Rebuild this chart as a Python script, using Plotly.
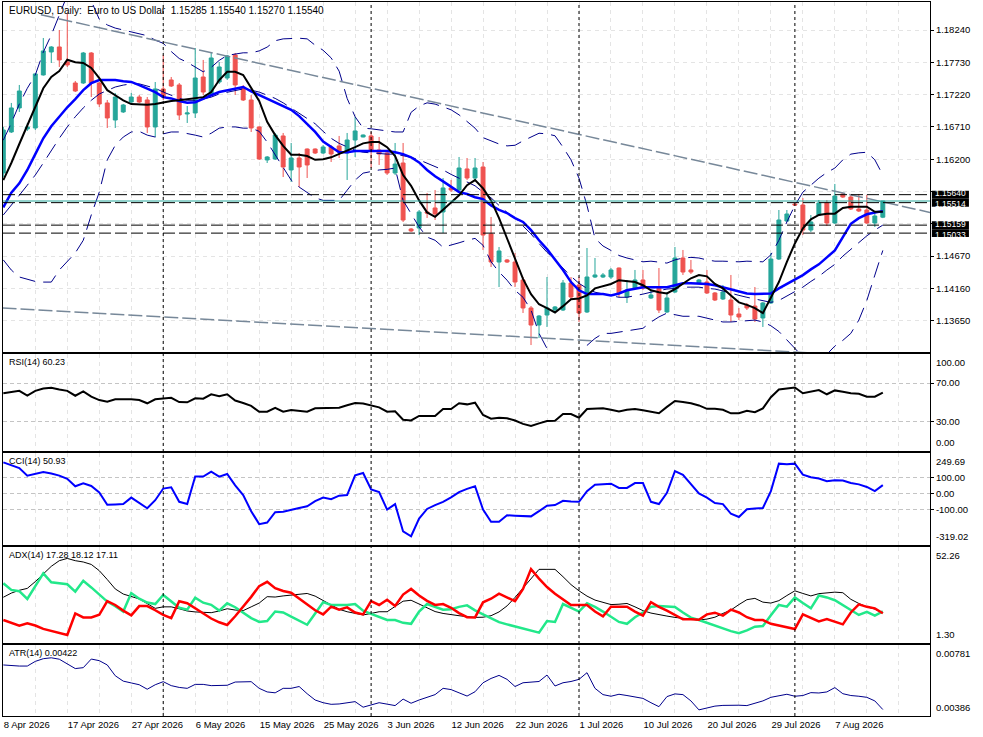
import pandas as pd
import plotly.graph_objects as go

# daily EURUSD bars, the broker also prints a small Sunday candle (6 bars a week)
dates = pd.bdate_range("2026-04-08", "2026-08-14", freq="C", weekmask="Sun Mon Tue Wed Thu Fri")

opens = [1.15982, 1.16630, 1.17009, 1.16677, 1.16693, 1.17530, 1.17893, 1.17972, 1.17735, 1.17403,
         1.17403, 1.17877, 1.17403, 1.17088, 1.16819, 1.16946, 1.17103, 1.17182, 1.17135, 1.16709,
         1.17309, 1.17451, 1.17372, 1.16914, 1.16930, 1.17498, 1.17214, 1.17419, 1.17482, 1.17846,
         1.17340, 1.17135, 1.16709, 1.16188, 1.16203, 1.16567, 1.16030, 1.16219, 1.16361, 1.16361,
         1.16298, 1.16393, 1.16409, 1.16298, 1.16503, 1.16551, 1.16567, 1.16346, 1.16298, 1.15982,
         1.16140, 1.15098, 1.15114, 1.15367, 1.15430, 1.15367, 1.15746, 1.15714, 1.16046, 1.15903,
         1.16077, 1.15019, 1.14577, 1.14609, 1.14577, 1.14293, 1.13851, 1.13582, 1.13740, 1.13819,
         1.13819, 1.14245, 1.14214, 1.13788, 1.14340, 1.14340, 1.14340, 1.14482, 1.14024, 1.14167,
         1.14293, 1.14009, 1.14167, 1.13788, 1.14103, 1.14640, 1.14451, 1.14245, 1.14261, 1.14088,
         1.13993, 1.13977, 1.13756, 1.13898, 1.13882, 1.13693, 1.13930, 1.14624, 1.15224, 1.15493,
         1.15477, 1.15082, 1.15319, 1.15509, 1.15193, 1.15651, 1.15603, 1.15414, 1.15398, 1.15193,
         1.15285]
highs = [1.16709, 1.17088, 1.17372, 1.16772, 1.17560, 1.18114, 1.17985, 1.18240, 1.18509, 1.17435,
         1.17893, 1.17890, 1.17419, 1.17135, 1.17246, 1.17072, 1.17246, 1.17214, 1.17182, 1.17419,
         1.17846, 1.17498, 1.17403, 1.17040, 1.17956, 1.17767, 1.17877, 1.17735, 1.17846, 1.17877,
         1.17372, 1.17214, 1.16720, 1.16250, 1.16614, 1.16614, 1.16456, 1.16298, 1.16370, 1.16370,
         1.16424, 1.16424, 1.16567, 1.16614, 1.16867, 1.16590, 1.16630, 1.16551, 1.16346, 1.16456,
         1.16456, 1.15114, 1.15398, 1.15667, 1.15714, 1.15903, 1.15872, 1.16235, 1.16219, 1.16219,
         1.16156, 1.15288, 1.14814, 1.14624, 1.14719, 1.14340, 1.13882, 1.13740, 1.14340, 1.13882,
         1.14293, 1.14340, 1.14340, 1.14798, 1.14640, 1.14403, 1.14482, 1.14490, 1.14293, 1.14451,
         1.14451, 1.14135, 1.14482, 1.14103, 1.14814, 1.14767, 1.14609, 1.14309, 1.14451, 1.14103,
         1.14214, 1.14372, 1.13851, 1.13930, 1.14182, 1.13945, 1.14719, 1.15398, 1.15398, 1.15509,
         1.15588, 1.15319, 1.15556, 1.15556, 1.15809, 1.15667, 1.15651, 1.15651, 1.15635, 1.15351,
         1.15540]
lows = [1.15919, 1.16614, 1.16946, 1.16646, 1.16661, 1.17520, 1.17719, 1.17656, 1.17656, 1.17261,
        1.17388, 1.17182, 1.17025, 1.16693, 1.16693, 1.16930, 1.17088, 1.17088, 1.16614, 1.16551,
        1.17135, 1.17340, 1.16819, 1.16772, 1.16851, 1.17214, 1.17198, 1.17388, 1.17451, 1.17214,
        1.17119, 1.16630, 1.16188, 1.16140, 1.16188, 1.15919, 1.15840, 1.15761, 1.15903, 1.16282,
        1.16282, 1.16156, 1.16219, 1.15872, 1.16235, 1.16545, 1.16061, 1.16109, 1.15951, 1.15951,
        1.15209, 1.15051, 1.15003, 1.15272, 1.15240, 1.15035, 1.15682, 1.15682, 1.15872, 1.15872,
        1.14767, 1.14498, 1.14182, 1.14561, 1.14182, 1.13772, 1.13266, 1.13377, 1.13551, 1.13803,
        1.13803, 1.13977, 1.13630, 1.13772, 1.14324, 1.14324, 1.14309, 1.14024, 1.13930, 1.14151,
        1.14135, 1.13993, 1.13772, 1.13772, 1.14088, 1.14372, 1.14388, 1.14230, 1.14072, 1.13961,
        1.13977, 1.13630, 1.13661, 1.13819, 1.13630, 1.13551, 1.13914, 1.14609, 1.15209, 1.15461,
        1.15003, 1.15051, 1.15303, 1.15146, 1.15177, 1.15588, 1.15398, 1.15367, 1.15177, 1.15130,
        1.15270]
closes = [1.16661, 1.17009, 1.17277, 1.16709, 1.17546, 1.17909, 1.17972, 1.17767, 1.17688, 1.17277,
          1.17877, 1.17403, 1.17072, 1.16851, 1.17182, 1.17056, 1.17182, 1.17103, 1.16709, 1.17309,
          1.17182, 1.17356, 1.16898, 1.16930, 1.17482, 1.17261, 1.17798, 1.17656, 1.17830, 1.17372,
          1.17135, 1.16693, 1.16203, 1.16235, 1.16582, 1.16077, 1.16219, 1.16077, 1.16109, 1.16298,
          1.16393, 1.16282, 1.16314, 1.16503, 1.16646, 1.16582, 1.16346, 1.16282, 1.15982, 1.16124,
          1.15240, 1.15067, 1.15367, 1.15351, 1.15335, 1.15746, 1.15714, 1.16061, 1.15903, 1.16061,
          1.15003, 1.14577, 1.14751, 1.14577, 1.14261, 1.13851, 1.13582, 1.13724, 1.13851, 1.13867,
          1.14245, 1.14024, 1.13772, 1.14340, 1.14372, 1.14372, 1.14451, 1.14088, 1.14135, 1.14293,
          1.14167, 1.14056, 1.13819, 1.14009, 1.14640, 1.14419, 1.14419, 1.14293, 1.14088, 1.13977,
          1.14103, 1.13740, 1.13709, 1.13851, 1.13677, 1.13930, 1.14624, 1.15240, 1.15335, 1.15477,
          1.15082, 1.15209, 1.15509, 1.15193, 1.15619, 1.15603, 1.15414, 1.15382, 1.15193, 1.15303,
          1.15540]

# moving averages and bands on the price window
ma_fast = [1.1587, 1.1614, 1.1644, 1.1674, 1.1702, 1.1732, 1.1750, 1.1759, 1.1777, 1.1773,
           1.1772, 1.1764, 1.1748, 1.1729, 1.1721, 1.1713, 1.1707, 1.1706, 1.1706, 1.1707,
           1.1710, 1.1712, 1.1713, 1.1715, 1.1716, 1.1718, 1.1726, 1.1745, 1.1758, 1.1758,
           1.1753, 1.1732, 1.1712, 1.1679, 1.1658, 1.1641, 1.1627, 1.1627, 1.1625, 1.1619,
           1.1620, 1.1623, 1.1628, 1.1633, 1.1639, 1.1645, 1.1647, 1.1647, 1.1639, 1.1625,
           1.1595, 1.1578, 1.1555, 1.1536, 1.1529, 1.1540, 1.1551, 1.1563, 1.1579, 1.1587,
           1.1574, 1.1555, 1.1527, 1.1495, 1.1461, 1.1431, 1.1407, 1.1391, 1.1385, 1.1378,
           1.1388, 1.1399, 1.1400, 1.1405, 1.1416, 1.1419, 1.1423, 1.1429, 1.1427, 1.1426,
           1.1421, 1.1413, 1.1410, 1.1408, 1.1415, 1.1424, 1.1432, 1.1437, 1.1435, 1.1423,
           1.1416, 1.1405, 1.1394, 1.1390, 1.1385, 1.1377, 1.1402, 1.1426, 1.1458, 1.1487,
           1.1511, 1.1525, 1.1532, 1.1534, 1.1534, 1.1543, 1.1545, 1.1545, 1.1545, 1.1537,
           1.1537]
ma_mid = [1.1544, 1.1567, 1.1582, 1.1603, 1.1628, 1.1653, 1.1672, 1.1687, 1.1702, 1.1715,
          1.1729, 1.1740, 1.1745, 1.1745, 1.1745, 1.1743, 1.1742, 1.1737, 1.1731, 1.1726,
          1.1718, 1.1716, 1.1712, 1.1709, 1.1710, 1.1716, 1.1721, 1.1726, 1.1729, 1.1732,
          1.1734, 1.1727, 1.1721, 1.1716, 1.1710, 1.1704, 1.1698, 1.1688, 1.1676, 1.1663,
          1.1648, 1.1639, 1.1631, 1.1631, 1.1633, 1.1633, 1.1633, 1.1633, 1.1633, 1.1631,
          1.1628, 1.1623, 1.1615, 1.1603, 1.1593, 1.1585, 1.1576, 1.1568, 1.1565, 1.1560,
          1.1557, 1.1547, 1.1540, 1.1535, 1.1527, 1.1521, 1.1508, 1.1492, 1.1478, 1.1461,
          1.1445, 1.1426, 1.1413, 1.1407, 1.1407, 1.1407, 1.1405, 1.1408, 1.1413, 1.1416,
          1.1418, 1.1418, 1.1418, 1.1418, 1.1421, 1.1424, 1.1424, 1.1424, 1.1423, 1.1421,
          1.1418, 1.1415, 1.1411, 1.1408, 1.1407, 1.1407, 1.1408, 1.1416, 1.1423, 1.1429,
          1.1437, 1.1446, 1.1454, 1.1465, 1.1476, 1.1497, 1.1518, 1.1527, 1.1533, 1.1536,
          1.1538]
ma_slow = [1.1532, 1.1547, 1.1563, 1.1579, 1.1595, 1.1614, 1.1634, 1.1653, 1.1671, 1.1687,
           1.1701, 1.1713, 1.1723, 1.1729, 1.1734, 1.1737, 1.1739, 1.1739, 1.1736, 1.1732,
           1.1726, 1.1721, 1.1716, 1.1713, 1.1713, 1.1715, 1.1718, 1.1723, 1.1726, 1.1729,
           1.1731, 1.1729, 1.1726, 1.1721, 1.1716, 1.1709, 1.1701, 1.1693, 1.1685, 1.1676,
           1.1664, 1.1653, 1.1645, 1.1639, 1.1634, 1.1631, 1.1630, 1.1628, 1.1628, 1.1628,
           1.1626, 1.1623, 1.1619, 1.1614, 1.1608, 1.1603, 1.1596, 1.1590, 1.1584, 1.1578,
           1.1568, 1.1559, 1.1547, 1.1536, 1.1527, 1.1514, 1.1502, 1.1487, 1.1473, 1.1461,
           1.1448, 1.1435, 1.1424, 1.1416, 1.1410, 1.1407, 1.1404, 1.1402, 1.1402, 1.1404,
           1.1407, 1.1410, 1.1413, 1.1415, 1.1416, 1.1418, 1.1418, 1.1418, 1.1416, 1.1415,
           1.1412, 1.1408, 1.1405, 1.1402, 1.1399, 1.1397, 1.1394, 1.1397, 1.1404, 1.1410,
           1.1418, 1.1427, 1.1435, 1.1445, 1.1454, 1.1467, 1.1478, 1.1489, 1.1499, 1.1508,
           1.1516]
bb_upper = [1.1650, 1.1677, 1.1707, 1.1732, 1.1753, 1.1789, 1.1816, 1.1848, 1.1879, 1.1887,
            1.1879, 1.1870, 1.1841, 1.1832, 1.1827, 1.1824, 1.1821, 1.1819, 1.1815, 1.1808,
            1.1803, 1.1790, 1.1779, 1.1773, 1.1766, 1.1758, 1.1765, 1.1776, 1.1784, 1.1786,
            1.1788, 1.1788, 1.1791, 1.1797, 1.1807, 1.1810, 1.1811, 1.1811, 1.1810, 1.1800,
            1.1792, 1.1780, 1.1759, 1.1716, 1.1687, 1.1669, 1.1668, 1.1666, 1.1664, 1.1663,
            1.1663, 1.1694, 1.1704, 1.1709, 1.1707, 1.1702, 1.1698, 1.1690, 1.1680, 1.1669,
            1.1654, 1.1649, 1.1644, 1.1641, 1.1642, 1.1649, 1.1655, 1.1661, 1.1660, 1.1657,
            1.1639, 1.1619, 1.1590, 1.1547, 1.1495, 1.1483, 1.1476, 1.1468, 1.1464, 1.1461,
            1.1458, 1.1459, 1.1458, 1.1456, 1.1461, 1.1464, 1.1465, 1.1464, 1.1461, 1.1459,
            1.1459, 1.1458, 1.1458, 1.1459, 1.1458, 1.1458, 1.1469, 1.1492, 1.1521, 1.1547,
            1.1568, 1.1579, 1.1590, 1.1599, 1.1606, 1.1619, 1.1628, 1.1630, 1.1631, 1.1619,
            1.1595]
bb_lower = [1.1461, 1.1445, 1.1434, 1.1431, 1.1427, 1.1426, 1.1426, 1.1445, 1.1458, 1.1472,
            1.1492, 1.1532, 1.1568, 1.1619, 1.1642, 1.1655, 1.1663, 1.1664, 1.1658, 1.1655,
            1.1660, 1.1663, 1.1663, 1.1661, 1.1658, 1.1655, 1.1661, 1.1669, 1.1671, 1.1671,
            1.1669, 1.1669, 1.1664, 1.1647, 1.1627, 1.1608, 1.1587, 1.1576, 1.1568, 1.1559,
            1.1555, 1.1555, 1.1555, 1.1571, 1.1587, 1.1598, 1.1601, 1.1603, 1.1604, 1.1606,
            1.1555, 1.1535, 1.1513, 1.1497, 1.1492, 1.1481, 1.1484, 1.1488, 1.1492, 1.1495,
            1.1484, 1.1458, 1.1442, 1.1429, 1.1413, 1.1402, 1.1382, 1.1345, 1.1321, 1.1303,
            1.1295, 1.1299, 1.1310, 1.1326, 1.1337, 1.1345, 1.1345, 1.1347, 1.1348, 1.1350,
            1.1353, 1.1363, 1.1371, 1.1377, 1.1375, 1.1372, 1.1372, 1.1372, 1.1369, 1.1366,
            1.1363, 1.1363, 1.1364, 1.1364, 1.1366, 1.1363, 1.1357, 1.1348, 1.1334, 1.1320,
            1.1308, 1.1300, 1.1303, 1.1312, 1.1325, 1.1334, 1.1345, 1.1366, 1.1397, 1.1437,
            1.1476]

# oscillators
rsi = [59.5, 60.7, 62.0, 57.2, 62.0, 64.5, 65.3, 63.5, 62.0, 57.0,
       61.5, 56.0, 52.5, 50.8, 53.3, 53.3, 53.3, 52.5, 49.2, 53.3,
       54.3, 54.9, 50.5, 50.2, 54.3, 53.9, 58.5, 56.5, 58.5, 52.0,
       49.5, 46.5, 40.5, 40.5, 44.6, 40.5, 42.3, 41.5, 40.5, 44.0,
       44.0, 44.0, 44.6, 47.2, 49.5, 49.0, 47.0, 45.0, 40.5, 41.0,
       32.3, 31.5, 36.1, 36.1, 36.1, 43.3, 43.3, 49.2, 48.1, 49.8,
       37.1, 33.3, 34.3, 33.7, 31.5, 28.0, 25.8, 28.5, 31.0, 31.2,
       38.1, 38.1, 34.3, 43.3, 44.0, 44.0, 42.5, 40.8, 42.5, 43.3,
       42.0, 40.5, 39.0, 45.5, 51.5, 50.5, 49.2, 47.0, 43.5, 43.5,
       42.5, 38.9, 38.9, 41.5, 40.0, 44.0, 55.5, 63.5, 64.6, 65.5,
       59.5, 61.5, 62.9, 58.5, 62.5, 61.0, 59.5, 59.0, 56.0, 56.0,
       60.23]
cci = [192, 175, 157, 110, 122, 132, 123, 110, 90, 44,
       62, 46, 6, -70, -68, -66, -26, -60, -92, -42,
       30, 38, -52, -66, 104, 104, 134, 104, 120, 50,
       -10, -110, -190, -180, -116, -113, -100, -90, -80, -48,
       -26, -36, -14, -10, 112, 126, 24, 8, -100, -66,
       -235, -265, -156, -96, -72, -52, -25, 8, 28, 44,
       -100, -175, -175, -135, -138, -142, -142, -110, -76, -72,
       -46, -50, -52, 14, 54, 57, 60, 34, 34, 64,
       64, -52, -66, 4, 138, 115, 60, 0, -26, -60,
       -66, -126, -146, -98, -93, -90, 14, 184, 180, 184,
       116, 100, 92, 76, 82, 80, 64, 56, 40, 14,
       50.93]
adx = [25.6, 27.8, 29.3, 30.3, 33.9, 38.2, 42.0, 45.0, 46.2, 45.0,
       44.3, 43.0, 39.7, 35.0, 30.0, 27.3, 25.9, 24.7, 22.2, 19.7,
       20.5, 20.5, 19.5, 18.3, 17.8, 17.4, 17.4, 18.3, 19.5, 18.8,
       18.5, 20.5, 22.5, 25.9, 25.7, 26.3, 26.8, 27.4, 27.6, 26.2,
       24.0, 21.5, 19.2, 17.9, 17.0, 16.2, 17.0, 17.9, 17.9, 20.5,
       23.5, 24.0, 22.0, 20.0, 18.0, 17.0, 16.2, 15.8, 15.3, 14.9,
       15.0, 15.8, 17.8, 21.0, 25.5, 30.5, 36.0, 40.4, 40.4, 40.4,
       36.5, 32.3, 29.0, 26.2, 24.1, 22.8, 21.7, 21.9, 22.3, 20.5,
       18.5, 17.2, 16.2, 15.6, 14.9, 14.3, 13.8, 13.5, 14.0, 15.0,
       17.0, 18.8, 21.7, 24.3, 25.0, 23.0, 22.5, 23.8, 26.5, 29.0,
       27.6, 26.3, 27.5, 28.0, 28.3, 28.0, 24.5, 22.3, 20.5, 19.3,
       17.28]
plus_di = [33.0, 29.5, 28.8, 24.7, 31.5, 38.3, 33.5, 33.2, 32.5, 28.6,
           34.3, 30.8, 27.0, 23.3, 20.8, 18.0, 27.8, 24.8, 22.8, 22.0,
           26.8, 23.5, 20.0, 19.0, 25.3, 22.7, 21.6, 18.5, 22.4, 20.3,
           17.2, 14.5, 12.5, 13.0, 18.0, 17.5, 15.3, 13.0, 11.0, 17.0,
           23.0, 21.5, 21.5, 21.5, 22.0, 18.5, 16.8, 15.0, 13.5, 13.5,
           12.0, 11.5, 18.0, 22.0, 20.4, 19.0, 19.2, 20.5, 21.3, 18.6,
           16.5, 14.3, 12.4, 11.2, 10.0, 8.8, 7.8, 6.8, 13.0, 12.5,
           22.0, 20.0, 18.0, 22.4, 20.5, 18.0, 15.2, 12.5, 11.5, 15.0,
           17.5, 20.5, 20.9, 20.7, 20.4, 17.5, 14.8, 13.5, 12.0, 10.5,
           9.0, 7.6, 6.5, 8.0, 10.0, 10.3, 16.0, 21.5, 20.6, 25.5,
           22.5, 19.7, 26.5, 25.5, 24.0, 21.5, 19.0, 16.2, 17.8, 15.8,
           18.12]
minus_di = [13.5, 11.8, 10.5, 11.8, 10.6, 8.8, 7.6, 6.5, 5.6, 17.0,
            14.9, 14.9, 16.3, 23.5, 21.5, 18.5, 16.0, 20.9, 20.9, 18.7,
            16.2, 14.5, 23.5, 22.4, 19.8, 17.2, 14.3, 12.3, 10.9, 15.5,
            20.5, 25.8, 31.5, 33.8, 30.4, 28.9, 28.0, 25.0, 22.0, 18.7,
            16.5, 20.6, 19.0, 20.2, 17.5, 16.5, 23.5, 21.5, 24.3, 21.0,
            27.0, 30.0, 26.5, 23.7, 21.5, 22.0, 20.0, 17.2, 15.0, 14.9,
            22.9, 24.8, 27.5, 25.5, 23.5, 30.0, 40.5, 35.5, 31.0, 27.5,
            24.5, 21.5, 21.5, 21.5, 18.0, 15.5, 20.6, 20.6, 20.6, 18.0,
            15.8, 23.0, 20.5, 18.5, 16.0, 13.9, 13.9, 13.6, 16.5, 17.4,
            15.8, 19.0, 17.5, 15.0, 13.5, 13.5, 11.5, 10.5, 9.6, 8.7,
            16.5, 14.5, 12.8, 14.0, 12.8, 11.2, 17.5, 21.8, 20.5, 19.7,
            17.11]
atr = [0.00670, 0.00666, 0.00664, 0.00664, 0.00690, 0.00705, 0.00710, 0.00702, 0.00675, 0.00650,
       0.00655, 0.00703, 0.00694, 0.00670, 0.00610, 0.00580, 0.00570, 0.00560, 0.00535, 0.00560,
       0.00577, 0.00555, 0.00545, 0.00540, 0.00562, 0.00562, 0.00555, 0.00555, 0.00557, 0.00575,
       0.00577, 0.00577, 0.00540, 0.00520, 0.00515, 0.00540, 0.00540, 0.00550, 0.00510, 0.00475,
       0.00460, 0.00451, 0.00453, 0.00460, 0.00466, 0.00435, 0.00448, 0.00460, 0.00452, 0.00444,
       0.00480, 0.00457, 0.00475, 0.00490, 0.00505, 0.00540, 0.00533, 0.00515, 0.00497, 0.00521,
       0.00571, 0.00595, 0.00612, 0.00590, 0.00550, 0.00571, 0.00575, 0.00578, 0.00614, 0.00553,
       0.00571, 0.00578, 0.00590, 0.00627, 0.00540, 0.00505, 0.00496, 0.00507, 0.00500, 0.00494,
       0.00484, 0.00460, 0.00438, 0.00494, 0.00509, 0.00505, 0.00470, 0.00420, 0.00432, 0.00441,
       0.00445, 0.00447, 0.00446, 0.00444, 0.00456, 0.00470, 0.00490, 0.00500, 0.00507, 0.00496,
       0.00500, 0.00516, 0.00514, 0.00520, 0.00544, 0.00510, 0.00500, 0.00496, 0.00490, 0.00470,
       0.00422]

# drawn objects
levels = [1.15640, 1.15514, 1.15159, 1.15033]
bid = 1.15540
trend_hi_x = [4.7, 115.9]
trend_hi_y = [1.1848, 1.1536]
trend_lo_x = [-0.1, 96.5]
trend_lo_y = [1.1385, 1.1317]
month_starts = ["2026-05-01", "2026-06-01", "2026-07-01", "2026-08-02"]

price_ticks = [1.13650, 1.14160, 1.14670, 1.15180, 1.15690, 1.16200, 1.16710, 1.17220, 1.17730, 1.18240]
hidden_ticks = [1.15180, 1.15690]  # covered by the level boxes

TEAL = "#26a69a"
RED = "#ef5350"
NAVY = "#00008b"
FONT = "Liberation Sans"
LBL = dict(family=FONT, size=9.5, color="black")
TTL = dict(family=FONT, size=9, color="black")
HDR = dict(family=FONT, size=10, color="black")

x = list(range(len(dates)))
nbars = len(dates)

fig = go.Figure()

fig.add_trace(go.Candlestick(
    x=x, open=opens, high=highs, low=lows, close=closes,
    increasing=dict(line=dict(color=TEAL, width=1), fillcolor=TEAL),
    decreasing=dict(line=dict(color=RED, width=1), fillcolor=RED),
    whiskerwidth=0, showlegend=False, hoverinfo="skip", xaxis="x", yaxis="y"))

for band in (bb_upper, bb_lower, ma_slow):
    fig.add_trace(go.Scatter(x=x, y=band, mode="lines", showlegend=False, hoverinfo="skip",
                             line=dict(color=NAVY, width=1, dash="16px,8px"), xaxis="x", yaxis="y"))

fig.add_trace(go.Scatter(x=trend_hi_x, y=trend_hi_y, mode="lines", showlegend=False, hoverinfo="skip",
                         line=dict(color="#778899", width=1.5, dash="14px,4px"), xaxis="x", yaxis="y"))
fig.add_trace(go.Scatter(x=trend_lo_x + [nbars + 6], y=trend_lo_y + [trend_lo_y[1] - 0.0014], mode="lines",
                         showlegend=False, hoverinfo="skip",
                         line=dict(color="#778899", width=1.5, dash="14px,4px"), xaxis="x", yaxis="y"))

fig.add_trace(go.Scatter(x=x, y=ma_mid, mode="lines", showlegend=False, hoverinfo="skip",
                         line=dict(color="#0000ff", width=2.5), xaxis="x", yaxis="y"))
fig.add_trace(go.Scatter(x=x, y=ma_fast, mode="lines", showlegend=False, hoverinfo="skip",
                         line=dict(color="black", width=2), xaxis="x", yaxis="y"))

# sub windows
fig.add_trace(go.Scatter(x=x, y=rsi, mode="lines", showlegend=False, hoverinfo="skip",
                         line=dict(color="black", width=2), xaxis="x2", yaxis="y2"))
fig.add_trace(go.Scatter(x=x, y=cci, mode="lines", showlegend=False, hoverinfo="skip",
                         line=dict(color="#0000ff", width=2), xaxis="x3", yaxis="y3"))
fig.add_trace(go.Scatter(x=x, y=adx, mode="lines", showlegend=False, hoverinfo="skip",
                         line=dict(color="black", width=1), xaxis="x4", yaxis="y4"))
fig.add_trace(go.Scatter(x=x, y=plus_di, mode="lines", showlegend=False, hoverinfo="skip",
                         line=dict(color="#22e88a", width=2.5), xaxis="x4", yaxis="y4"))
fig.add_trace(go.Scatter(x=x, y=minus_di, mode="lines", showlegend=False, hoverinfo="skip",
                         line=dict(color="#ff0000", width=2.5), xaxis="x4", yaxis="y4"))
fig.add_trace(go.Scatter(x=x, y=atr, mode="lines", showlegend=False, hoverinfo="skip",
                         line=dict(color=NAVY, width=1), xaxis="x5", yaxis="y5"))

# panel domains (main, RSI, CCI, ADX, ATR)
domains = [[0.5098, 1.0], [0.3711, 0.5070], [0.2395, 0.3683], [0.1022, 0.2367], [0.0, 0.0994]]
ranges = [[1.13156, 1.18682], [0, 100], [-319.02, 249.69], [1.30, 52.26], [0.00386, 0.00781]]

grid_x = list(range(0, nbars + 6, 4))
date_text = [f"{dates[i].day} {dates[i]:%b %Y}" if (i % 8 == 0 and i < nbars) else "" for i in grid_x]

box = dict(showline=True, mirror=True, linecolor="black", linewidth=1, zeroline=False)
for k in range(5):
    xa = dict(range=[-0.04, 115.9], tickvals=grid_x, ticktext=date_text, showticklabels=(k == 4),
              ticks="", tickfont=LBL, ticklabelposition="outside right",
              showgrid=True, gridcolor="#e4e4e4", griddash="4px,4px",
              anchor="y" if k == 0 else f"y{k + 1}", **box)
    if k == 0:
        xa["rangeslider"] = dict(visible=False)
    else:
        xa["matches"] = "x"
    fig.layout["xaxis" if k == 0 else f"xaxis{k + 1}"] = xa

fig.layout.yaxis = dict(domain=domains[0], range=ranges[0], side="right", anchor="x",
                        tickvals=price_ticks,
                        ticktext=["" if t in hidden_ticks else f"{t:.5f}" for t in price_ticks],
                        ticks="outside", ticklen=3, tickcolor="black", tickfont=LBL,
                        showgrid=True, gridcolor="#e4e4e4", griddash="4px,4px", **box)
fig.layout.yaxis2 = dict(domain=domains[1], range=ranges[1], side="right", anchor="x2",
                         tickvals=[30, 70], ticktext=["30.00", "70.00"],
                         ticks="outside", ticklen=3, tickcolor="black", tickfont=LBL,
                         showgrid=True, gridcolor="#c4c4c4", griddash="4px,3px", **box)
fig.layout.yaxis3 = dict(domain=domains[2], range=ranges[2], side="right", anchor="x3",
                         tickvals=[-100, 0, 100], ticktext=["-100.00", "0.00", "100.00"],
                         ticks="outside", ticklen=3, tickcolor="black", tickfont=LBL,
                         showgrid=True, gridcolor="#c4c4c4", griddash="4px,3px", **box)
fig.layout.yaxis4 = dict(domain=domains[3], range=ranges[3], side="right", anchor="x4",
                         tickvals=[], showgrid=False, **box)
fig.layout.yaxis5 = dict(domain=domains[4], range=ranges[4], side="right", anchor="x5",
                         tickvals=[], showgrid=False, **box)

# min / max labels of every window sit inside the window edges
edge_labels = [(ranges[1], "{:.2f}"), (ranges[2], "{:.2f}"), (ranges[3], "{:.2f}"), (ranges[4], "{:.5f}")]
annotations = []
for k, (rng, fmt) in enumerate(edge_labels, start=1):
    lo, hi = domains[k]
    annotations.append(dict(x=1, y=hi, xref="paper", yref="paper", xanchor="left", yanchor="top",
                            xshift=4, yshift=-1, text=fmt.format(rng[1]), showarrow=False, font=LBL))
    annotations.append(dict(x=1, y=lo, xref="paper", yref="paper", xanchor="left", yanchor="bottom",
                            xshift=4, yshift=1, text=fmt.format(rng[0]), showarrow=False, font=LBL))

nb = "\u00a0"
header = (f"EURUSD, Daily:{nb}{nb}Euro to US Dollar{nb}{nb}"
          f"{opens[-1]:.5f} {highs[-1]:.5f} {lows[-1]:.5f} {closes[-1]:.5f}")
titles = [header,
          f"RSI(14) {rsi[-1]:.2f}",
          f"CCI(14) {cci[-1]:.2f}",
          f"ADX(14) {adx[-1]:.2f} {plus_di[-1]:.2f} {minus_di[-1]:.2f}",
          f"ATR(14) {atr[-1]:.5f}"]
for k, t in enumerate(titles):
    annotations.append(dict(x=0, y=domains[k][1], xref="paper", yref="paper", xanchor="left",
                            yanchor="top", xshift=4, yshift=-1, text=t, showarrow=False,
                            font=HDR if k == 0 else TTL))

shapes = []
for lvl in levels:
    shapes.append(dict(type="line", xref="paper", x0=0, x1=1, yref="y", y0=lvl, y1=lvl,
                       line=dict(color="black", width=1, dash="12px,4px")))
shapes.append(dict(type="line", xref="paper", x0=0, x1=1, yref="y", y0=bid, y1=bid,
                   line=dict(color=TEAL, width=1)))
for d in month_starts:
    i = dates.get_loc(pd.Timestamp(d))
    shapes.append(dict(type="line", xref="x", x0=i, x1=i, yref="paper", y0=0, y1=1,
                       line=dict(color="black", width=1, dash="3px,3px")))

# black price boxes on the right scale; neighbours are stacked so nudge their text apart
half = 0.00063
nudge = [1.5, -1.5, 1.5, -1.5]
for lvl, dy in zip(levels, nudge):
    shapes.append(dict(type="rect", xref="paper", x0=1.002, x1=1.042, yref="y",
                       y0=lvl - half, y1=lvl + half, fillcolor="black", line=dict(width=0)))
    annotations.append(dict(x=1.003, y=lvl, xref="paper", yref="y", xanchor="left", yanchor="middle",
                            yshift=dy, text=f"{lvl:.5f}", showarrow=False,
                            font=dict(family=FONT, size=8.5, color="white")))

fig.update_layout(width=983, height=737, margin=dict(l=3, r=53, t=2, b=21),
                  paper_bgcolor="white", plot_bgcolor="white", showlegend=False,
                  font=LBL, annotations=annotations, shapes=shapes)

# page body has an 8px default margin; drop it so the figure sits at the window corner
fig.write_html("out.html", config={"displayModeBar": False},
               post_script="document.body.style.margin='0';")
